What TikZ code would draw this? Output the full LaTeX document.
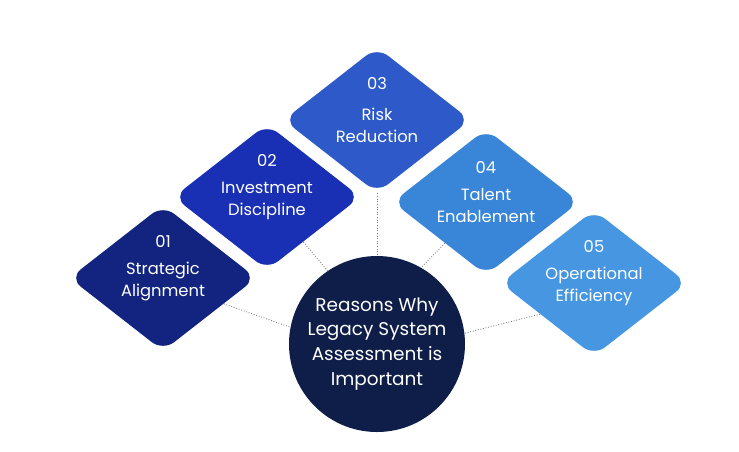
\documentclass[tikz,border=0pt]{standalone}
\usepackage[]{fontspec}
\usepackage[]{tikz}
\usepackage[]{xcolor}
\setmainfont{Poppins}
\usetikzlibrary{shapes.geometric}
\usetikzlibrary{backgrounds}
\definecolor{navyone}{HTML}{122480}
\definecolor{bluetwo}{HTML}{1930B4}
\definecolor{bluethree}{HTML}{2D5AC8}
\definecolor{bluefour}{HTML}{3985D8}
\definecolor{bluefive}{HTML}{4696E1}
\definecolor{hubnavy}{HTML}{0E1E48}
\tikzset{petal/.style = {diamond, aspect = 1.25, rounded corners = 8pt, minimum width = 3.74cm, minimum height = 2.92cm, inner sep = 0}}
\tikzset{petaltext/.style = {text = white, align = center, inner sep = 0, yshift = 0.2cm, font = \fontsize{9.3}{12.5}\selectfont}}
\tikzset{hub/.style = {circle, fill = hubnavy, text = white, minimum size = 3.52cm, inner sep = 0, align = center, font = \fontsize{10.5}{14.2}\selectfont}}
\tikzset{link/.style = {gray, line width = 0.5pt, densely dotted}}
\begin{document}
\begin{tikzpicture}
            \useasboundingbox (0,0) rectangle (14.78,-9.02);
            \node [hub] (hub) at (7.54,-6.88) {Reasons Why\\Legacy System\\Assessment is\\Important};
            \node [petal, fill=navyone, label={[petaltext]center:{01\\[3pt]Strategic\\Alignment}}] (d1) at (3.26,-5.56) {};
            \node [petal, fill=bluetwo, label={[petaltext]center:{02\\[3pt]Investment\\Discipline}}] (d2) at (5.34,-3.94) {};
            \node [petal, fill=bluethree, label={[petaltext]center:{03\\[5pt]Risk\\Reduction}}] (d3) at (7.54,-2.40) {};
            \node [petal, fill=bluefour, label={[petaltext]center:{04\\[3pt]Talent\\Enablement}}] (d4) at (9.72,-4.04) {};
            \node [petal, fill=bluefive, label={[petaltext]center:{05\\[3pt]Operational\\Efficiency}}] (d5) at (11.88,-5.66) {};
            \begin{scope}[on background layer]
            \draw [link] (d1.337)--(hub.169);
            \draw [link] (d2.309)--(hub.124);
            \draw [link] (d3.south)--(hub.north);
            \draw [link] (d4.225)--(hub.60);
            \draw [link] (d5.210)--(hub.7);
            \end{scope}
        \end{tikzpicture}
\end{document}
